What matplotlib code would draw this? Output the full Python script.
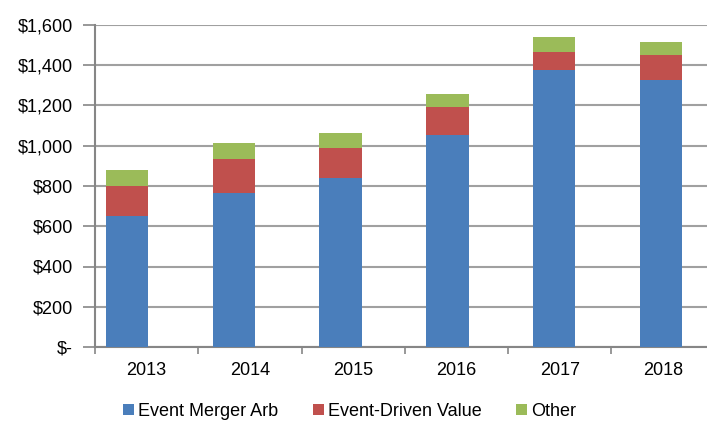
import numpy as np
import matplotlib.pyplot as plt
from matplotlib.ticker import FixedLocator, FuncFormatter

plt.rcParams['font.family'] = ['Liberation Sans', 'DejaVu Sans']

years = ['2013', '2014', '2015', '2016', '2017', '2018']
merger_arb = [652, 764, 841, 1052, 1375, 1328]
driven_value = [148, 170, 149, 141, 92, 124]
other = [80, 80, 72, 64, 73, 64]

fig = plt.figure(figsize=(7.07, 4.22), dpi=100)
ax = fig.add_axes([95 / 707, 1 - 347 / 422, 612 / 707, 322 / 422])

x = np.arange(len(years))
# bars drift slightly right of the category slots in the original
pos = x * 1.034 - 0.19
w = 0.41
ma = np.array(merger_arb)
dv = np.array(driven_value)
ot = np.array(other)
ax.bar(pos, ma, w, color='#4A7EBB', label='Event Merger Arb', zorder=3)
ax.bar(pos, dv, w, bottom=ma, color='#C0504D', label='Event-Driven Value', zorder=3)
ax.bar(pos, ot, w, bottom=ma + dv, color='#9BBB59', label='Other', zorder=3)

ax.set_xlim(-0.5, 612 / 103.3 - 0.5)
ax.set_ylim(0, 1600)
ax.set_yticks(np.arange(0, 1601, 200))
ax.yaxis.set_major_formatter(FuncFormatter(lambda v, p: '$-' if v == 0 else '${:,.0f}'.format(v)))
ax.set_xticks(x)
ax.set_xticklabels(years)
ax.xaxis.set_minor_locator(FixedLocator(np.arange(-0.5, 5.6, 1)))
ax.tick_params(axis='x', which='major', length=0, pad=11, labelsize=13)
ax.tick_params(axis='x', which='minor', length=5, color='#868686', width=1.2)
ax.tick_params(axis='y', length=9, color='#868686', width=1.2, labelsize=13, pad=7)

ax.grid(axis='y', color='#a0a0a0', linewidth=1.5, zorder=0)
for s in ['top', 'right']:
    ax.spines[s].set_visible(False)
for s in ['left', 'bottom']:
    ax.spines[s].set_color('#868686')
    ax.spines[s].set_linewidth(1.5)

ax.legend(loc='center', bbox_to_anchor=(0.416, -0.2), ncol=3, frameon=False,
          fontsize=13, handlelength=0.62, handleheight=0.62, handletextpad=0.22,
          columnspacing=1.92, borderpad=0)

fig.savefig('out.png', dpi=100)
